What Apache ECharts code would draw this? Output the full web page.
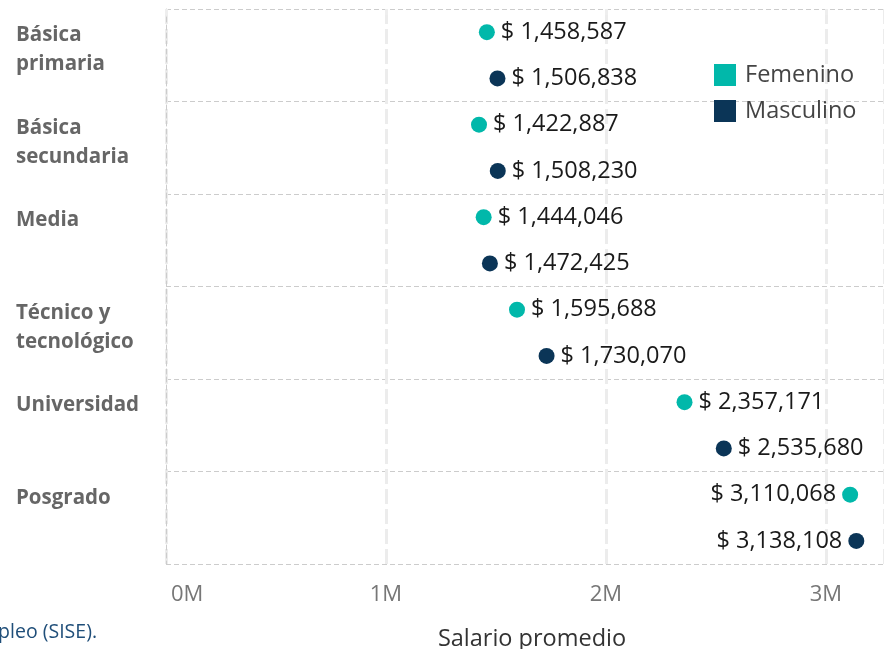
<!DOCTYPE html>
<html lang="es">
<head>
  <meta charset="UTF-8">
  <script src="https://cdn.jsdelivr.net/npm/echarts@6/dist/echarts.min.js"></script>
  <style>
    html, body { margin: 0; padding: 0; width: 100%; height: 100%; background: #fff; overflow: hidden; }
    #main { width: 884px; height: 649px; }
  </style>
</head>
<body>
  <div id="main"></div>
  <script>
    // niveles educativos (etiquetas del eje, con salto de línea)
    const categories = ['Básica\nprimaria', 'Básica\nsecundaria', 'Media', 'Técnico y\ntecnológico', 'Universidad', 'Posgrado'];
    const femenino = [1458587, 1422887, 1444046, 1595688, 2357171, 3110068];
    const masculino = [1506838, 1508230, 1472425, 1730070, 2535680, 3138108];
    const xTicks = ['0M', '1M', '2M', '3M'];

    const FONT = '"Open Sans", "Noto Sans", sans-serif';
    const C_FEM = '#01B8AA';
    const C_MAS = '#0B3557';

    function fmt(v) {
      return '$ ' + v.toLocaleString('en-US');
    }

    // the last row sits near the right edge, so its labels go on the left
    function points(values, offset) {
      return values.map(function (v, i) {
        return {
          value: [v, i + offset],
          label: { position: i === values.length - 1 ? 'left' : 'right' }
        };
      });
    }

    function dotSeries(name, color, values, offset) {
      return {
        name: name,
        type: 'scatter',
        symbolSize: 16,
        itemStyle: { color: color, opacity: 1 },
        label: {
          show: true,
          distance: 6,
          fontSize: 23.5,
          color: '#1a1a1a',
          fontFamily: FONT,
          formatter: function (p) { return fmt(p.value[0]); }
        },
        data: points(values, offset),
        z: 3
      };
    }

    const chart = echarts.init(document.getElementById('main'));

    const option = {
      backgroundColor: '#fff',
      animation: false,
      textStyle: { fontFamily: FONT },
      grid: { left: 166, right: 0, top: 9, bottom: 85, containLabel: false, outerBoundsMode: 'none' },
      legend: {
        orient: 'vertical',
        left: 709,
        top: 58,
        icon: 'rect',
        itemWidth: 22,
        itemHeight: 22,
        itemGap: 12,
        itemStyle: { opacity: 1 },
        textStyle: { fontSize: 23.5, color: '#444', fontFamily: FONT, padding: [0, 0, 0, 4] },
        data: ['Femenino', 'Masculino']
      },
      xAxis: {
        type: 'value',
        min: 0,
        max: 3264000,
        interval: 1000000,
        name: 'Salario promedio',
        nameLocation: 'middle',
        nameGap: 63,
        nameTextStyle: { fontSize: 23.5, color: '#333', fontFamily: FONT, padding: [0, 0, 0, 14] },
        axisLine: { show: false },
        axisTick: { show: true, length: 6, lineStyle: { color: '#eee', width: 3 } },
        axisLabel: {
          fontSize: 22,
          color: '#777',
          margin: 20,
          showMaxLabel: false,
          alignMinLabel: 'left',
          fontFamily: FONT,
          rich: { first: { fontSize: 22, color: '#777', padding: [0, 0, 0, 5] } },
          formatter: function (v) {
            const t = xTicks[Math.round(v / 1000000)] || '';
            return v === 0 ? '{first|' + t + '}' : t;
          }
        },
        splitLine: { lineStyle: { color: '#ececec', width: 3, type: [15, 5] } }
      },
      yAxis: {
        type: 'value',
        inverse: true,
        min: 0,
        max: 6,
        interval: 1,
        axisLine: { show: true, lineStyle: { color: '#ccc', width: 1, type: [5, 3] } },
        axisTick: { show: false },
        axisLabel: {
          align: 'left',
          verticalAlign: 'top',
          margin: 150,
          fontSize: 20.5,
          fontWeight: 'bold',
          lineHeight: 29,
          padding: [12, 0, 0, 0],
          color: '#666',
          fontFamily: FONT,
          formatter: function (v) {
            return categories[v] || '';
          }
        },
        splitLine: { lineStyle: { color: '#ccc', width: 1, type: [5, 3] } }
      },
      series: [
        dotSeries('Femenino', C_FEM, femenino, 0.25),
        dotSeries('Masculino', C_MAS, masculino, 0.75)
      ],
      graphic: [
        {
          type: 'text',
          right: 787,
          top: 622,
          style: {
            text: 'Fuente: Sistema de Información del Servicio Público de Empleo (SISE).',
            fill: '#1F4E79',
            fontSize: 19.5,
            fontFamily: FONT
          }
        }
      ]
    };

    chart.setOption(option);
  </script>
</body>
</html>
